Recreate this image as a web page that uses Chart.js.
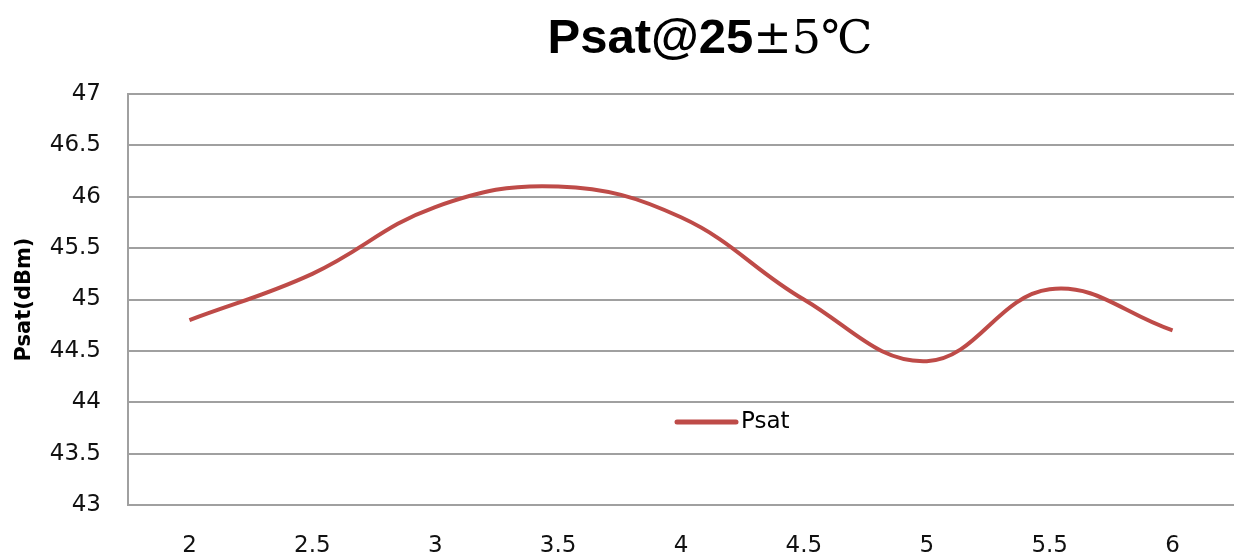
<!DOCTYPE html>
<html>
<head>
<meta charset="utf-8">
<script src="https://cdn.jsdelivr.net/npm/chart.js@4"></script>
<style>
  body { margin: 0; background: #fff; }
  #wrap { width: 1234px; height: 557px; }
</style>
</head>
<body>
<div id="wrap"><canvas id="myChart" width="1234" height="557"></canvas></div>
<script>
// chart data
const categories = ['2', '2.5', '3', '3.5', '4', '4.5', '5', '5.5', '6'];
const psatValues = [44.8, 45.25, 45.9, 46.1, 45.8, 45.0, 44.4, 45.1, 44.7];
const yTicks = [43, 43.5, 44, 44.5, 45, 45.5, 46, 46.5, 47];

const titleMain = 'Psat@25';
const titleTail = '±5℃';
const seriesName = 'Psat';
const lineColor = '#be4b48';
const gridColor = '#a0a0a0';
const tickFont = { family: '"DejaVu Sans", sans-serif', size: 23 };

// draws the mixed-font title and the in-plot legend
const decorations = {
    id: 'decorations',
    afterDraw(chart) {
        const ctx = chart.ctx;
        const area = chart.chartArea;
        const cx = (area.left + area.right) / 2;

        // title: bold sans part + serif part, like the original
        ctx.save();
        ctx.fillStyle = '#000';
        ctx.textBaseline = 'alphabetic';
        const boldFont = 'bold 49px "Liberation Sans", sans-serif';
        const thinFont = '46px "DejaVu Serif", "Noto Sans CJK SC", serif';
        ctx.font = boldFont;
        const w1 = ctx.measureText(titleMain).width;
        ctx.font = thinFont;
        const w2 = ctx.measureText(titleTail).width;
        const startX = cx + 29 - (w1 + w2) / 2;
        ctx.font = boldFont;
        ctx.fillText(titleMain, startX, 53);
        ctx.font = thinFont;
        ctx.fillText(titleTail, startX + w1, 53);

        // legend inside the plot
        const ly = area.top + 0.798 * (area.bottom - area.top);
        ctx.strokeStyle = lineColor;
        ctx.lineWidth = 5;
        ctx.lineCap = 'round';
        ctx.beginPath();
        ctx.moveTo(cx - 4, ly);
        ctx.lineTo(cx + 55, ly);
        ctx.stroke();
        ctx.font = '23px "DejaVu Sans", sans-serif';
        ctx.textBaseline = 'middle';
        ctx.fillStyle = '#000';
        ctx.fillText(seriesName, cx + 60, ly);
        ctx.restore();
    }
};

const ctx = document.getElementById('myChart').getContext('2d');
const myChart = new Chart(ctx, {
    type: 'line',
    data: {
        labels: categories,
        datasets: [{
            label: seriesName,
            data: psatValues,
            borderColor: lineColor,
            backgroundColor: lineColor,
            borderWidth: 4,
            pointRadius: 0,
            tension: 0.4,
            fill: false
        }]
    },
    options: {
        responsive: false,
        animation: false,
        devicePixelRatio: 1,
        layout: {
            padding: { top: 94, left: 8, right: 0, bottom: 0 }
        },
        plugins: {
            legend: { display: false },
            title: { display: false },
            tooltip: { enabled: false }
        },
        scales: {
            x: {
                offset: true,
                afterFit(scale) { scale.height = 52; },
                grid: { display: false, drawTicks: false },
                border: { display: true, color: gridColor, width: 2 },
                ticks: {
                    color: '#111',
                    padding: 27,
                    font: tickFont
                }
            },
            y: {
                min: 43,
                max: 47,
                afterFit(scale) { scale.width = 120; },
                afterBuildTicks(scale) {
                    scale.ticks = yTicks.map(v => ({ value: v }));
                },
                grid: { color: gridColor, lineWidth: 2, drawTicks: false },
                border: { display: true, color: gridColor, width: 2 },
                ticks: {
                    color: '#111',
                    padding: 27,
                    font: tickFont,
                    callback: value => String(value)
                },
                title: {
                    display: true,
                    text: 'Psat(dBm)',
                    color: '#000',
                    padding: { top: 4, bottom: 4 },
                    font: { family: '"DejaVu Sans", sans-serif', size: 21, weight: 'bold' }
                }
            }
        }
    },
    plugins: [decorations]
});
</script>
</body>
</html>
